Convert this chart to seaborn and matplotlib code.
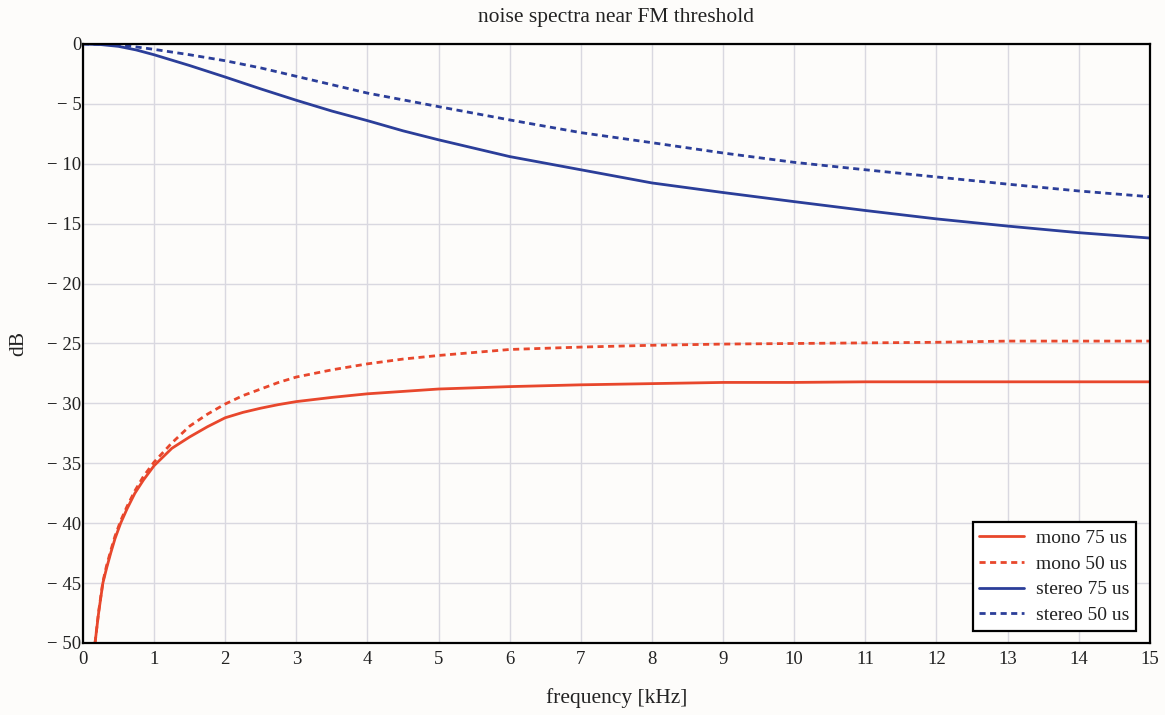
import matplotlib
matplotlib.use("Agg")
import matplotlib.pyplot as plt
import seaborn as sns
import pandas as pd

# frequency axis [kHz] and level [dB] per curve
mono75_f = [0.17, 0.22, 0.28, 0.33, 0.39, 0.45, 0.53, 0.62, 0.73, 0.85, 1.0, 1.25, 1.5, 1.75, 2.0,
            2.25, 2.5, 2.75, 3.0, 3.5, 4.0, 5.0, 6.0, 7.0, 8.0, 9.0, 10.0, 11.0, 12.0, 13.0, 14.0, 15.0]
mono75_db = [-50.0, -47.5, -45.0, -43.8, -42.5, -41.3, -40.0, -38.8, -37.5, -36.4, -35.2, -33.75, -32.8,
             -31.95, -31.2, -30.75, -30.4, -30.1, -29.85, -29.5, -29.2, -28.8, -28.6, -28.45, -28.35,
             -28.25, -28.25, -28.2, -28.2, -28.2, -28.2, -28.2]

mono50_f = [0.17, 0.22, 0.28, 0.33, 0.39, 0.45, 0.53, 0.62, 0.73, 0.85, 1.0, 1.25, 1.5, 1.75, 2.0,
            2.25, 2.5, 2.75, 3.0, 3.5, 4.0, 4.5, 5.0, 6.0, 7.0, 8.0, 9.0, 10.0, 11.0, 12.0, 13.0, 14.0, 15.0]
mono50_db = [-50.0, -47.4, -44.9, -43.6, -42.3, -41.1, -39.8, -38.6, -37.3, -36.1, -34.9, -33.3, -31.9,
             -30.9, -30.05, -29.35, -28.8, -28.25, -27.8, -27.2, -26.7, -26.3, -26.0, -25.5, -25.3,
             -25.15, -25.05, -25.0, -24.95, -24.9, -24.8, -24.8, -24.8]

stereo75_f = [0.0, 0.25, 0.5, 0.75, 1.0, 1.25, 1.5, 2.0, 2.5, 3.0, 3.5, 4.0, 4.5, 5.0, 5.5, 6.0, 7.0,
              8.0, 9.0, 10.0, 11.0, 12.0, 13.0, 14.0, 15.0]
stereo75_db = [0.0, -0.05, -0.2, -0.5, -0.9, -1.35, -1.8, -2.76, -3.75, -4.7, -5.6, -6.4, -7.25, -8.0,
               -8.7, -9.4, -10.5, -11.6, -12.4, -13.16, -13.9, -14.6, -15.2, -15.75, -16.2]

stereo50_f = [0.0, 0.5, 1.0, 1.5, 2.0, 2.5, 3.0, 3.5, 4.0, 5.0, 6.0, 7.0, 8.0, 9.0, 10.0, 11.0, 12.0,
              13.0, 14.0, 15.0]
stereo50_db = [0.0, -0.05, -0.45, -0.9, -1.4, -2.0, -2.7, -3.4, -4.1, -5.23, -6.34, -7.4, -8.24, -9.1,
               -9.88, -10.5, -11.1, -11.7, -12.27, -12.75]

series_names = ["mono 75 us", "mono 50 us", "stereo 75 us", "stereo 50 us"]

x_ticks = list(range(0, 16))
y_ticks = [0, -5, -10, -15, -20, -25, -30, -35, -40, -45, -50]
y_tick_labels = ["0", "\u2212 5", "\u2212 10", "\u2212 15", "\u2212 20", "\u2212 25", "\u2212 30",
                 "\u2212 35", "\u2212 40", "\u2212 45", "\u2212 50"]

title = "noise spectra near FM threshold"
x_label = "frequency [kHz]"
y_label = "dB"

frames = []
for name, f, db in zip(series_names,
                       [mono75_f, mono50_f, stereo75_f, stereo50_f],
                       [mono75_db, mono50_db, stereo75_db, stereo50_db]):
    frames.append(pd.DataFrame({"f": f, "dB": db, "curve": name}))
df = pd.concat(frames, ignore_index=True)

sns.set_theme(style="whitegrid")
bg = "#fdfcfa"
plt.rcParams["font.family"] = ["Liberation Serif", "DejaVu Serif"]
plt.rcParams["axes.facecolor"] = bg
plt.rcParams["figure.facecolor"] = bg

red = "#e8472c"
blue = "#2b3e99"
palette = {"mono 75 us": red, "mono 50 us": red, "stereo 75 us": blue, "stereo 50 us": blue}
dashes = {"mono 75 us": "", "mono 50 us": (2.2, 1.6), "stereo 75 us": "", "stereo 50 us": (2.2, 1.6)}

fig = plt.figure(figsize=(11.65, 7.15), dpi=100)
ax = fig.add_axes([0.0712, 0.1007, 0.9158, 0.8378])

sns.lineplot(data=df, x="f", y="dB", hue="curve", style="curve", hue_order=series_names,
             style_order=series_names, palette=palette, dashes=dashes, estimator=None,
             sort=False, linewidth=2.0, ax=ax)

ax.set_xlim(0, 15)
ax.set_ylim(-50, 0)
ax.set_xticks(x_ticks, [str(t) for t in x_ticks])
ax.set_yticks(y_ticks, y_tick_labels)
ax.grid(True, color="#d9d8e0", linewidth=1.0)
for s in ax.spines.values():
    s.set_visible(True)
    s.set_color("black")
    s.set_linewidth(1.6)
ax.tick_params(axis="both", length=0, labelsize=13.5, colors="#222222")
ax.tick_params(axis="x", pad=6)
ax.tick_params(axis="y", pad=1)

ax.set_title(title, fontsize=15.5, color="#222222", pad=16)
ax.set_xlabel(x_label, fontsize=15.5, color="#222222", labelpad=14)
ax.set_ylabel(y_label, fontsize=15.5, color="#222222", labelpad=14)

leg = ax.legend(loc="lower right", fontsize=14, frameon=True, fancybox=False, framealpha=1,
                edgecolor="black", facecolor="white", handlelength=2.3, borderpad=0.35,
                labelspacing=0.42, handletextpad=0.6, borderaxespad=0,
                bbox_to_anchor=(0.987, 0.02))
leg.get_frame().set_linewidth(1.6)
for t in leg.get_texts():
    t.set_color("#222222")

fig.savefig("out.png", dpi=100, facecolor=bg)
